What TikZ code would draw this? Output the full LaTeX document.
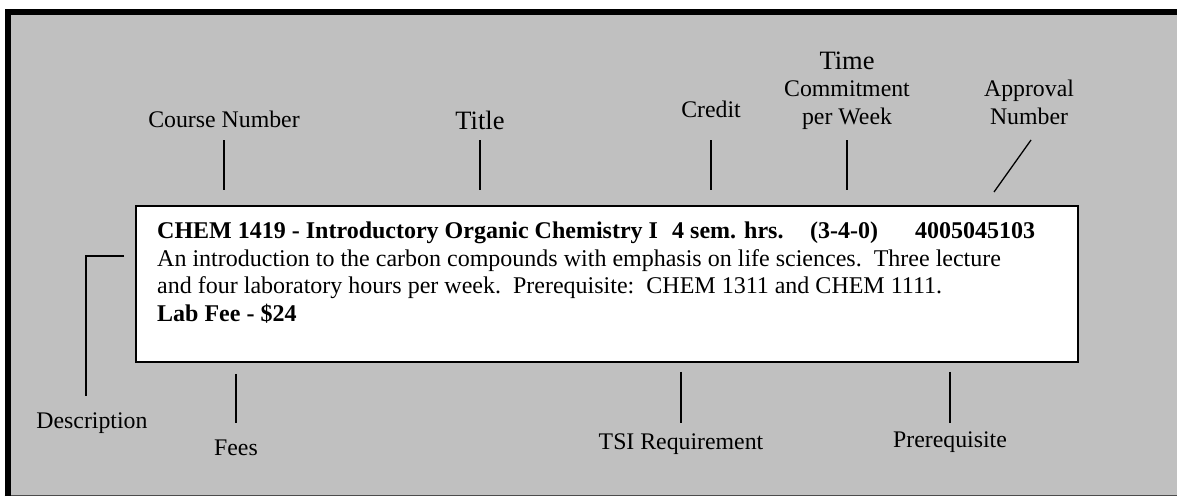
\documentclass[tikz,border=0pt]{standalone}
\usepackage{fontspec}
\setmainfont{Liberation Serif}
\definecolor{panelgray}{HTML}{C0C0C0}
\tikzset{
  lbl/.style={font=\fontsize{23.8}{27.5}\selectfont, align=center, anchor=base},
  biglbl/.style={font=\fontsize{26.5}{30}\selectfont, anchor=base},
  entrytxt/.style={font=\fontsize{24}{27.7}\selectfont, anchor=base west, inner sep=0pt},
  entrybold/.style={entrytxt, font=\fontsize{24}{27.7}\selectfont\bfseries},
  pointer/.style={line width=1.3pt},
}
\begin{document}
\begin{tikzpicture}[x=1pt, y=-1pt]
    \useasboundingbox (0,0) rectangle (1177,496);
    % gray panel with its frame
    \fill[panelgray] (4.6,9) rectangle (1177,496);
    \draw[line width=0.8pt, black!70] (4.6,495.5) -- (1177,495.5);
    \draw[line width=6.6pt] (8,496) -- (8,12) -- (1177,12);

    % the catalogue entry
    \node[draw, fill=white, line width=1.5pt, minimum width=942pt, minimum height=156pt, inner sep=0pt] (entry) at (607,284) {};
    \node[entrybold] (hdr) at (157,238) {CHEM 1419 - Introductory Organic Chemistry I};
    \node[entrybold] (hrs) at (672,238) {4 sem. hrs.};
    \node[entrybold] (week) at (810,238) {(3-4-0)};
    \node[entrybold] (apnum) at (915,238) {4005045103};
    \node[entrytxt] (desc1) at (157,266) {An introduction to the carbon compounds with emphasis on life sciences.\ \ Three lecture};
    \node[entrytxt] (desc2) at (157,293) {and four laboratory hours per week.\ \ Prerequisite:\ \ CHEM 1311 and CHEM 1111.};
    \node[entrybold] (fee) at (157,321) {Lab Fee - \$24};

    % labels
    \node[lbl] (course) at (224,127) {Course Number};
    \node[biglbl] (title) at (480,129) {Title};
    \node[lbl] (credit) at (711,117) {Credit};
    \node[lbl] (time) at (847,124) {{\fontsize{26.5}{30}\selectfont Time}\\Commitment\\per Week};
    \node[lbl] (approval) at (1029,124) {Approval\\Number};
    \node[lbl] (descr) at (92,428) {Description};
    \node[lbl] (fees) at (236,455) {Fees};
    \node[lbl] (tsi) at (681,449) {TSI Requirement};
    \node[lbl] (prereq) at (950,447) {Prerequisite};

    % pointers
    \coordinate (toprow) at (0,140);
    \coordinate (botrow) at (0,423);
    \coordinate (aptip) at (994,192);
    \coordinate (desctip) at (124,256);
    \coordinate (descfoot) at (86,396);
    \draw[pointer, shorten >=15pt] (course |- toprow) -- (course |- entry.north);
    \draw[pointer, shorten >=15pt] (title |- toprow) -- (title |- entry.north);
    \draw[pointer, shorten >=15pt] (credit |- toprow) -- (credit |- entry.north);
    \draw[pointer, shorten >=15pt] (time |- toprow) -- (time |- entry.north);
    \draw[pointer] ([xshift=2pt]approval |- toprow) -- (aptip);
    \draw[pointer] (desctip) -| (descfoot);
    \draw[pointer, shorten <=11pt] (fees |- entry.south) -- (fees |- botrow);
    \draw[pointer, shorten <=9pt] (tsi |- entry.south) -- (tsi |- botrow);
    \draw[pointer, shorten <=9pt] (prereq |- entry.south) -- (prereq |- botrow);
\end{tikzpicture}
\end{document}
